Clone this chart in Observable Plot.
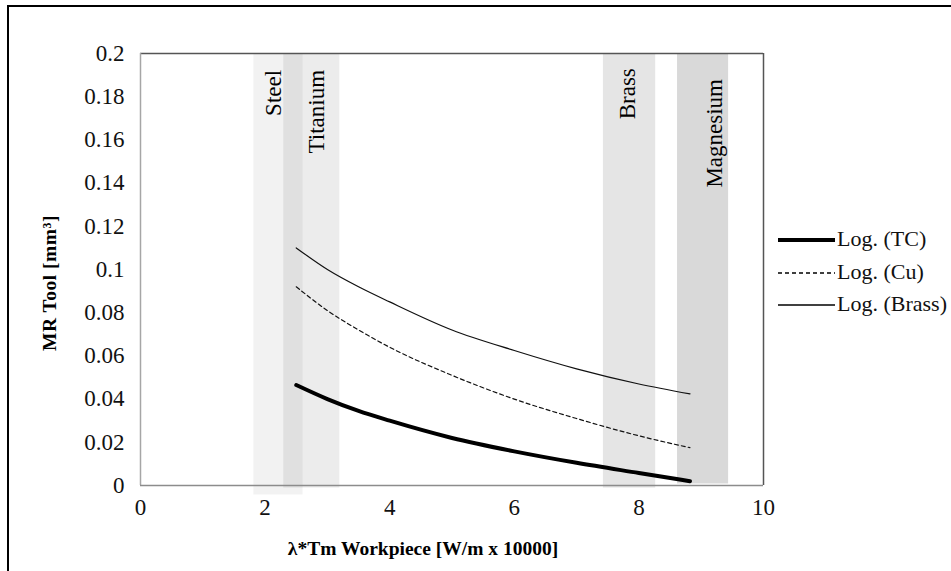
<!DOCTYPE html>
<html>
<head>
<meta charset="utf-8">
<script src="https://cdn.jsdelivr.net/npm/d3@7"></script>
<script src="https://cdn.jsdelivr.net/npm/@observablehq/plot@0.6"></script>
<style>
  html, body { margin: 0; padding: 0; background: #fff; overflow: hidden; }
  #wrap { position: relative; width: 951px; height: 571px; overflow: hidden; font-family: "Liberation Serif", "Times New Roman", Times, "DejaVu Serif", serif; }
  #outer { position: absolute; left: 7px; top: 5px; width: 1000px; height: 700px; border-top: 2px solid #000; border-left: 2px solid #000; pointer-events: none; }
  #legend { position: absolute; left: 778px; top: 224px; font-size: 22px; color: #111; }
  .row { position: absolute; left: 0; height: 32px; width: 172px; white-space: nowrap; }
  .row svg { position: absolute; left: 0; top: 0; }
  .row span { position: absolute; left: 59px; top: 2px; }
  .axtitle { position: absolute; font-weight: bold; font-size: 19.5px; color: #000; white-space: nowrap; line-height: 1; }
  #xtitle { left: 423px; top: 549px; transform: translate(-50%, -50%); }
  #ytitle { left: 50px; top: 283px; transform: translate(-50%, -50%) rotate(-90deg); letter-spacing: 0.5px; }
</style>
</head>
<body>
<div id="wrap">
  <div id="outer"></div>
  <div id="chart"></div>
  <div id="legend"></div>
  <div id="xtitle" class="axtitle"></div>
  <div id="ytitle" class="axtitle"></div>
</div>
<script>
// ---- data ----
const xTicks = [0, 2, 4, 6, 8, 10];
const yTicks = [0, 0.02, 0.04, 0.06, 0.08, 0.1, 0.12, 0.14, 0.16, 0.18, 0.2];
const yTickLabels = ["0", "0.02", "0.04", "0.06", "0.08", "0.1", "0.12", "0.14", "0.16", "0.18", "0.2"];
const xTitle = "λ*Tm Workpiece [W/m x 10000]";
const yTitle = "MR Tool [mm³]";

const materials = ["Steel", "Titanium", "Brass", "Magnesium"];
const bandFrom  = [1.82, 2.30, 7.43, 8.62];
const bandTo    = [2.61, 3.20, 8.27, 9.44];
const bandLow   = [-0.0044, -0.0012, -0.0012, 0.0007];
const bandHigh  = [0.2, 0.2, 0.2, 0.2];
const labelX    = [2.14, 2.83, 7.82, 9.21];
const labelTop  = [0.1924, 0.1924, 0.1932, 0.1882];

const seriesNames = ["Log. (TC)", "Log. (Cu)", "Log. (Brass)"];
const xs      = [2.5, 3, 3.5, 4, 5, 6, 7, 8, 8.82];
const tcVals  = [0.0465, 0.040, 0.0345, 0.030, 0.022, 0.0158, 0.0105, 0.0058, 0.002];
const cuVals  = [0.092, 0.081, 0.072, 0.064, 0.051, 0.040, 0.031, 0.023, 0.0175];
const brVals  = [0.110, 0.100, 0.092, 0.085, 0.072, 0.0625, 0.054, 0.047, 0.0424];

// ---- build tables ----
const bands = materials.map((m, i) => ({m, x1: bandFrom[i], x2: bandTo[i], y1: bandLow[i], y2: bandHigh[i], lx: labelX[i], ly: labelTop[i]}));
const shade = {Steel: 0.05, Titanium: 0.075, Brass: 0.1, Magnesium: 0.15};
const mk = (vals) => xs.map((x, i) => ({x, y: vals[i]}));
const tc = mk(tcVals), cu = mk(cuVals), br = mk(brVals);

const font = "'Liberation Serif', 'Times New Roman', Times, 'DejaVu Serif', serif";

const chart = Plot.plot({
  width: 951,
  height: 571,
  marginLeft: 140,
  marginRight: 188,
  marginTop: 53,
  marginBottom: 86,
  style: {fontFamily: font, fontSize: "23px", color: "#111", background: "transparent"},
  x: {domain: [0, 10]},
  y: {domain: [0, 0.2]},
  marks: [
    Plot.rect(bands, {x1: "x1", x2: "x2", y1: "y1", y2: "y2", fill: "#000", fillOpacity: d => shade[d.m]}),
    Plot.ruleY([0.2], {stroke: "#555", strokeWidth: 1.5}),
    Plot.ruleX([10], {stroke: "#555", strokeWidth: 1.5}),
    Plot.ruleX([0], {stroke: "#a6a6a6", strokeWidth: 1.5}),
    Plot.ruleY([0], {stroke: "#8c8c8c", strokeWidth: 1.5}),
    Plot.text(bands, {x: "lx", y: "ly", text: "m", rotate: -90, textAnchor: "end", fontSize: 23, fill: "#000", fontFamily: font}),
    Plot.line(br, {x: "x", y: "y", curve: "monotone-x", stroke: "#111", strokeWidth: 1.2}),
    Plot.line(cu, {x: "x", y: "y", curve: "monotone-x", stroke: "#111", strokeWidth: 1.2, strokeDasharray: "4,3"}),
    Plot.line(tc, {x: "x", y: "y", curve: "monotone-x", stroke: "#000", strokeWidth: 4}),
    Plot.axisX({ticks: xTicks, tickSize: 0, tickPadding: 13, tickFormat: d => String(d), label: null, fontSize: 23, fontFamily: font}),
    Plot.axisY({ticks: yTicks, tickSize: 0, tickPadding: 16, tickFormat: d => yTickLabels[yTicks.indexOf(d)], label: null, fontSize: 23, fontFamily: font})
  ]
});
document.getElementById("chart").appendChild(chart);
document.getElementById("xtitle").textContent = xTitle;
document.getElementById("ytitle").textContent = yTitle;

// ---- legend ----
const legend = document.getElementById("legend");
const legendStyles = [
  {w: 4, dash: null},
  {w: 1.3, dash: "4,3"},
  {w: 1.3, dash: null}
];
seriesNames.forEach((name, i) => {
  const row = document.createElement("div");
  row.className = "row";
  row.style.top = (i * 32.5) + "px";
  const st = legendStyles[i];
  row.innerHTML = `<svg width="60" height="32"><line x1="0" x2="57" y1="16" y2="16" stroke="#000" stroke-width="${st.w}" ${st.dash ? `stroke-dasharray="${st.dash}"` : ""}/></svg><span>${name}</span>`;
  legend.appendChild(row);
});
</script>
</body>
</html>
